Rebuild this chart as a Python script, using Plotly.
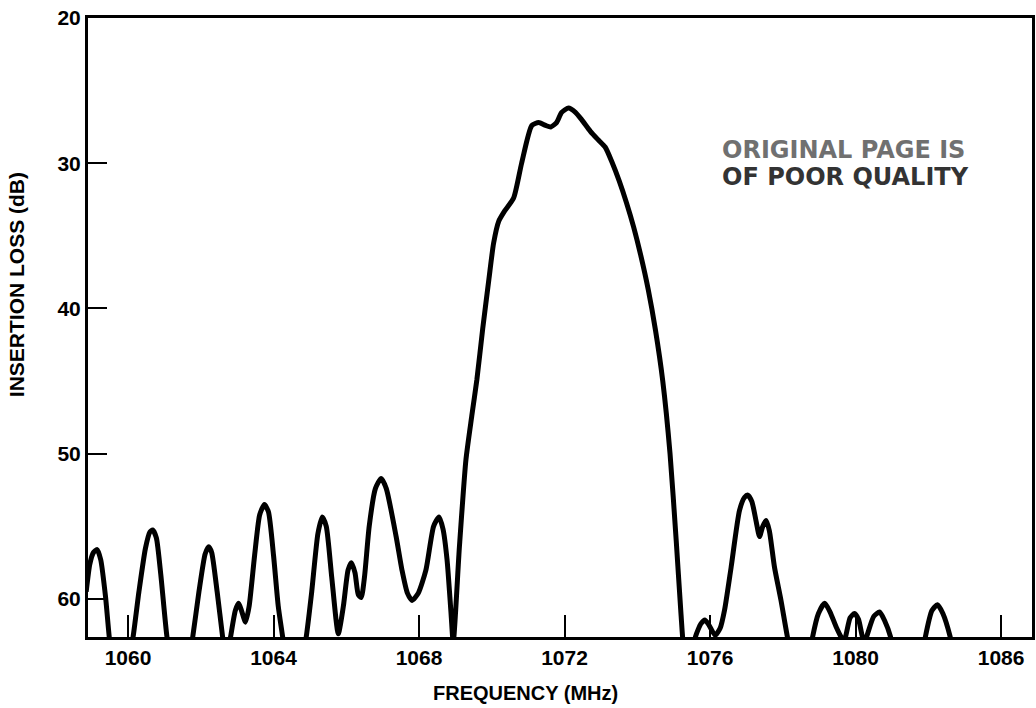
import plotly.graph_objects as go

# Filter response: frequency (MHz) vs insertion loss (dB)
frequency_mhz = [
    1058.85, 1058.95, 1059.05, 1059.15, 1059.25, 1059.38, 1059.5, 1059.6,
    1060.0, 1060.14, 1060.3, 1060.48, 1060.6, 1060.68, 1060.78, 1060.9, 1061.07, 1061.2,
    1061.65, 1061.78, 1061.95, 1062.12, 1062.22, 1062.3, 1062.45, 1062.6, 1062.7,
    1062.72, 1062.82, 1062.95, 1063.04, 1063.12, 1063.23, 1063.33, 1063.48, 1063.62,
    1063.75, 1063.86, 1064.0, 1064.13, 1064.25, 1064.35,
    1064.78, 1064.9, 1065.05, 1065.22, 1065.34, 1065.45, 1065.6, 1065.78, 1065.92,
    1066.05, 1066.14, 1066.24, 1066.33, 1066.41, 1066.5, 1066.63, 1066.8, 1066.96,
    1067.1, 1067.37, 1067.53, 1067.68, 1067.81, 1067.98, 1068.19, 1068.4, 1068.55,
    1068.66, 1068.77, 1068.88, 1068.94,
    1069.11, 1069.29, 1069.45, 1069.59, 1069.75, 1069.92, 1070.05, 1070.19, 1070.35,
    1070.6, 1070.82, 1071.1, 1071.29, 1071.48, 1071.62, 1071.78, 1071.92, 1072.11,
    1072.3, 1072.47, 1072.71, 1072.93, 1073.12, 1073.3, 1073.5, 1073.7, 1073.9,
    1074.1, 1074.3, 1074.5, 1074.7, 1074.9, 1075.07, 1075.2, 1075.28, 1075.4,
    1075.5, 1075.6, 1075.75, 1075.86, 1075.97, 1076.14, 1076.28, 1076.4, 1076.58,
    1076.81, 1076.95, 1077.04, 1077.15, 1077.27, 1077.36, 1077.45, 1077.54, 1077.63,
    1077.77, 1077.95, 1078.14, 1078.3,
    1078.7, 1078.82, 1078.98, 1079.15, 1079.3, 1079.48, 1079.68, 1079.85, 1079.97,
    1080.08, 1080.19, 1080.26, 1080.33, 1080.5, 1080.66, 1080.8, 1080.96, 1081.1,
    1081.8, 1081.92, 1082.1, 1082.25, 1082.4, 1082.6, 1082.75, 1084.9,
]
insertion_loss_db = [
    59.5, 57.6, 56.8, 56.6, 57.3, 59.8, 63.0, 64.5,
    64.5, 62.6, 59.5, 56.5, 55.4, 55.25, 55.8, 58.3, 62.6, 64.5,
    64.5, 62.6, 59.5, 56.9, 56.4, 56.8, 59.5, 62.6, 64.5,
    64.0, 62.6, 60.8, 60.3, 60.8, 61.6, 60.5, 57.0, 54.2,
    53.5, 54.0, 57.0, 60.5, 62.6, 64.5,
    64.5, 62.6, 59.5, 55.5, 54.35, 55.0, 58.5, 62.4, 60.5,
    58.0, 57.5, 58.2, 59.7, 59.9, 58.5, 55.0, 52.4, 51.7,
    52.4, 55.7, 58.0, 59.6, 60.1, 59.6, 58.0, 55.0, 54.35,
    55.2, 57.3, 61.0, 63.0,
    56.4, 50.4, 47.4, 44.9, 41.4, 38.0, 35.5, 34.0, 33.3,
    32.4, 30.0, 27.4, 27.2, 27.4, 27.5, 27.2, 26.5, 26.2,
    26.5, 27.0, 27.8, 28.4, 28.9, 29.9, 31.2, 32.7, 34.4,
    36.4, 38.7, 41.5, 45.0, 50.0, 56.0, 61.0, 63.5, 64.5,
    64.5, 62.6, 61.7, 61.45, 61.8, 62.5, 62.0, 60.75, 57.8,
    53.9, 53.0, 52.85, 53.3, 54.7, 55.7, 55.0, 54.6, 55.3,
    57.8, 60.1, 62.8, 64.5,
    64.5, 62.6, 61.0, 60.3, 60.9, 62.0, 62.9, 61.3, 61.0,
    61.4, 62.6, 62.9, 62.4, 61.2, 60.9, 61.5, 62.6, 64.5,
    64.5, 62.6, 60.8, 60.4, 61.0, 62.6, 64.5, 64.5,
]

freq_ticks = [1060, 1064, 1068, 1072, 1076, 1080, 1084]
freq_tick_labels = ["1060", "1064", "1068", "1072", "1076", "1080", "1086"]
loss_ticks = [20, 30, 40, 50, 60]
loss_tick_labels = ["20", "30", "40", "50", "60"]

FONT = "Arial, Liberation Sans, Helvetica, sans-serif"

fig = go.Figure()
fig.add_trace(go.Scatter(
    x=frequency_mhz,
    y=insertion_loss_db,
    mode="lines",
    line=dict(color="black", width=5, shape="spline", smoothing=0.6),
    hoverinfo="skip",
    showlegend=False,
))

axis_common = dict(
    showline=True, linecolor="black", linewidth=3, mirror=True,
    showgrid=False, zeroline=False,
    ticks="inside", tickcolor="black", tickwidth=2,
    tickfont=dict(family=FONT, size=21, color="black", weight="bold"),
)

fig.update_xaxes(
    range=[1058.9, 1084.85],
    tickmode="array", tickvals=freq_ticks, ticktext=freq_tick_labels,
    ticklen=22,
    **axis_common,
)
fig.update_yaxes(
    range=[62.62, 20],
    tickmode="array", tickvals=loss_ticks, ticktext=loss_tick_labels,
    ticklen=19,
    **axis_common,
)

fig.add_annotation(
    text="FREQUENCY (MHz)", xref="paper", yref="paper",
    x=0.4636, y=-0.0905, xanchor="center", yanchor="middle",
    showarrow=False, font=dict(family=FONT, size=20, color="black", weight="bold"),
)
fig.add_annotation(
    text="INSERTION LOSS (dB)", xref="paper", yref="paper",
    x=-0.075, y=0.5687, xanchor="center", yanchor="middle", textangle=-90,
    showarrow=False, font=dict(family=FONT, size=21, color="black", weight="bold"),
)
fig.add_annotation(
    text="ORIGINAL PAGE IS", xref="paper", yref="paper",
    x=0.6695, y=0.7868, xanchor="left", yanchor="middle",
    showarrow=False,
    font=dict(family="DejaVu Sans, sans-serif", size=24, color="#707070", weight="bold"),
)
fig.add_annotation(
    text="OF POOR QUALITY", xref="paper", yref="paper",
    x=0.6695, y=0.7431, xanchor="left", yanchor="middle",
    showarrow=False,
    font=dict(family="DejaVu Sans, sans-serif", size=24, color="#333333", weight="bold"),
)

fig.update_layout(
    width=1036, height=708,
    margin=dict(l=88, r=1, t=18, b=71),
    paper_bgcolor="white", plot_bgcolor="white",
)

fig.write_html("out.html")
